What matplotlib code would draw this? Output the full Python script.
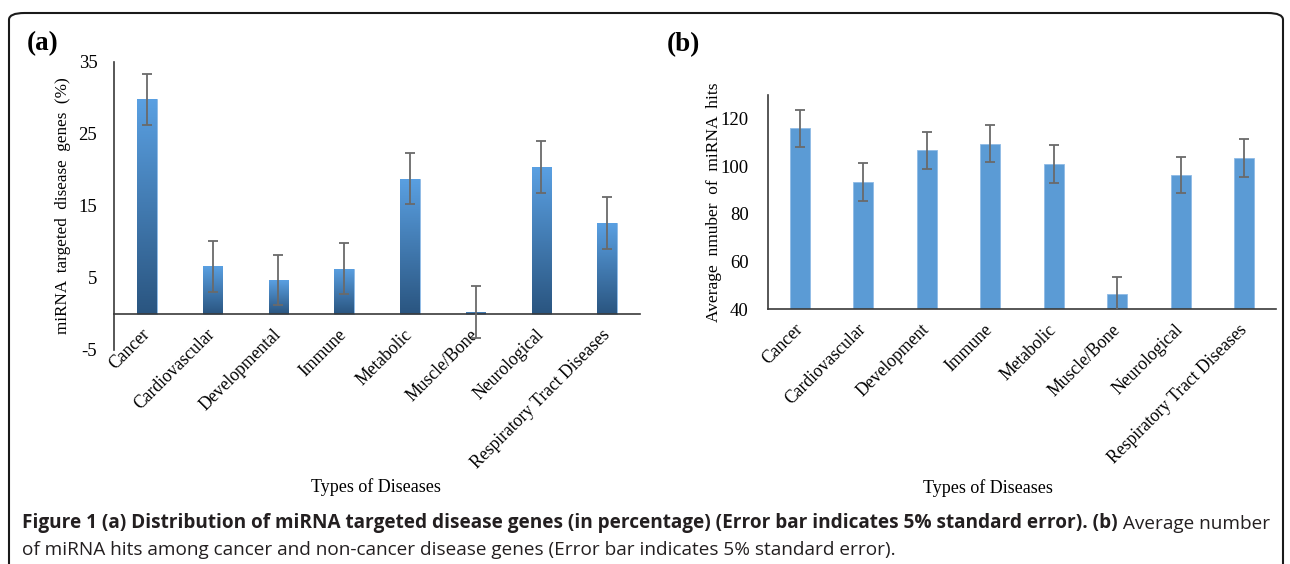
import matplotlib
matplotlib.use("Agg")
import matplotlib.pyplot as plt
import numpy as np
from matplotlib.patches import FancyBboxPatch
from matplotlib.colors import LinearSegmentedColormap
from matplotlib.text import Annotation

# ---- data ----
categories_a = ["Cancer", "Cardiovascular", "Developmental", "Immune", "Metabolic",
                "Muscle/Bone", "Neurological", "Respiratory Tract Diseases"]
values_a = [29.8, 6.6, 4.7, 6.3, 18.8, 0.3, 20.4, 12.6]
errors_a = [3.5, 3.6, 3.5, 3.5, 3.5, 3.6, 3.6, 3.6]
yticks_a = [-5, 5, 15, 25, 35]

categories_b = ["Cancer", "Cardiovascular", "Development", "Immune", "Metabolic",
                "Muscle/Bone", "Neurological", "Respiratory Tract Diseases"]
values_b = [116.0, 93.4, 106.7, 109.6, 100.9, 46.2, 96.2, 103.4]
errors_b = [7.9, 7.9, 7.9, 7.8, 8.0, 7.2, 7.6, 7.9]
yticks_b = [40, 60, 80, 100, 120]

W, H = 1290, 564
fig = plt.figure(figsize=(W / 100, H / 100), dpi=100)
serif = ["Liberation Serif", "DejaVu Serif"]
capfont = ["Open Sans", "DejaVu Sans"]

def px_axes(x0, y0, x1, y1):
    return fig.add_axes([x0 / W, 1 - y1 / H, (x1 - x0) / W, (y1 - y0) / H])

spine_col = "#3a3a3a"
err_col = "#6a6a6a"
tick_fs = 13.5
cat_fs = 12.7

# ---- panel (a) ----
ax1 = px_axes(114, 62, 640, 350)
x = np.arange(len(categories_a))
bars = ax1.bar(x, values_a, width=0.3, color="#4a8fd6", edgecolor="#8fbbe6",
               linewidth=0.6, zorder=2)
cmap = LinearSegmentedColormap.from_list("g", ["#2a5580", "#5aa0e2"])
grad = np.linspace(0, 1, 256).reshape(-1, 1)
for b in bars:
    bx, by = b.get_x(), b.get_y()
    bw, bh = b.get_width(), b.get_height()
    im = ax1.imshow(grad, extent=(bx, bx + bw, by, by + bh), origin="lower",
                    cmap=cmap, aspect="auto", zorder=2.5)
    im.set_clip_path(b)
ax1.errorbar(x, values_a, yerr=errors_a, fmt="none", ecolor=err_col,
             elinewidth=1.3, capsize=3.5, capthick=1.3, zorder=3)
ax1.set_xlim(-0.5, len(categories_a) - 0.5)
ax1.set_ylim(-5, 35)
ax1.spines["top"].set_visible(False)
ax1.spines["right"].set_visible(False)
ax1.spines["bottom"].set_position(("data", 0))
for s in ("left", "bottom"):
    ax1.spines[s].set_color(spine_col)
    ax1.spines[s].set_linewidth(1.2)
ax1.set_yticks(yticks_a)
ax1.set_yticklabels([str(v) for v in yticks_a], fontfamily=serif, fontsize=tick_fs)
ax1.tick_params(axis="y", length=0, pad=12)
ax1.set_xticks(x)
ax1.set_xticklabels(categories_a, fontfamily=serif, fontsize=cat_fs,
                    rotation=45, ha="right", va="center", rotation_mode="anchor")
ax1.tick_params(axis="x", length=0, pad=13)
ax1.set_ylabel("miRNA  targeted  disease  genes  (%)", fontfamily=serif,
               fontsize=12.3)
ax1.yaxis.set_label_coords(-0.081, 0.5)
fig.text(376 / W, 1 - 487 / H, "Types of Diseases", fontfamily=serif, fontsize=13,
         ha="center", va="center")
fig.text(27 / W, 1 - 44 / H, "(a)", fontfamily=serif, fontsize=19.5,
         fontweight="bold", ha="left", va="center")

# ---- panel (b) ----
ax2 = px_axes(768, 95, 1276, 309)
xb = np.arange(len(categories_b))
ax2.bar(xb, values_b, width=0.31, color="#5b9bd5", edgecolor="#8fbbe6",
        linewidth=0.6, zorder=2)
ax2.errorbar(xb, values_b, yerr=errors_b, fmt="none", ecolor=err_col,
             elinewidth=1.3, capsize=3.5, capthick=1.3, zorder=3)
ax2.set_xlim(-0.5, len(categories_b) - 0.5)
ax2.set_ylim(40, 130)
ax2.spines["top"].set_visible(False)
ax2.spines["right"].set_visible(False)
for s in ("left", "bottom"):
    ax2.spines[s].set_color(spine_col)
    ax2.spines[s].set_linewidth(1.2)
ax2.set_yticks(yticks_b)
ax2.set_yticklabels([str(v) for v in yticks_b], fontfamily=serif, fontsize=tick_fs)
ax2.tick_params(axis="y", length=0, pad=14)
ax2.set_xticks(xb)
ax2.set_xticklabels(categories_b, fontfamily=serif, fontsize=cat_fs,
                    rotation=45, ha="right", va="center", rotation_mode="anchor")
ax2.tick_params(axis="x", length=0, pad=13)
ax2.set_ylabel("Average  nmuber  of  miRNA  hits", fontfamily=serif,
               fontsize=12.5)
ax2.yaxis.set_label_coords(-0.09, 0.5)
fig.text(988 / W, 1 - 488 / H, "Types of Diseases", fontfamily=serif, fontsize=13,
         ha="center", va="center")
fig.text(667 / W, 1 - 45 / H, "(b)", fontfamily=serif, fontsize=19.5,
         fontweight="bold", ha="left", va="center")

# ---- border ----
border = FancyBboxPatch((9 / W, -40 / H), (1283 - 9) / W, (H - 13 + 40) / H,
                        boxstyle="round,pad=0,rounding_size=0.012",
                        transform=fig.transFigure, fill=False,
                        edgecolor="#1a1a1a", linewidth=1.5, clip_on=False)
fig.patches.append(border)

# ---- caption ----
cap_col = "#231f20"
cap_fs = 13.7
t1 = fig.text(22 / W, 1 - 533 / H,
              "Figure 1 (a) Distribution of miRNA targeted disease genes (in percentage) "
              "(Error bar indicates 5% standard error). (b)",
              fontfamily=capfont, fontsize=cap_fs, fontweight="bold", color=cap_col,
              ha="left", va="bottom")
a2 = Annotation(" Average number", xy=(1, 0), xycoords=t1, xytext=(0, 0),
                textcoords="offset points", fontfamily=capfont, fontsize=cap_fs,
                color=cap_col, ha="left", va="bottom")
fig.add_artist(a2)
fig.text(22 / W, 1 - 559 / H,
         "of miRNA hits among cancer and non-cancer disease genes "
         "(Error bar indicates 5% standard error).",
         fontfamily=capfont, fontsize=cap_fs, color=cap_col, ha="left", va="bottom")

fig.savefig("out.png", dpi=100)
